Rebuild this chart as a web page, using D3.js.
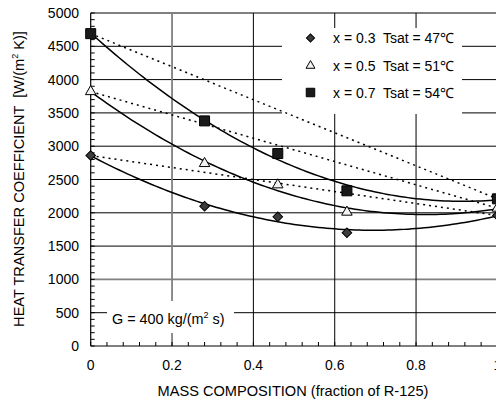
<!DOCTYPE html>
<html>
<head>
<meta charset="utf-8">
<script src="https://cdn.jsdelivr.net/npm/d3@7"></script>
<style>
  html, body { margin: 0; padding: 0; background: #fff; overflow: hidden; }
  svg { display: block; font-family: "Liberation Sans", Arial, sans-serif; }
  text { white-space: pre; }
</style>
</head>
<body>
<svg id="chart" width="496" height="403"></svg>
<script>
// ---- data ----
const composition = [0, 0.28, 0.46, 0.63, 1.0];
const htcX03 = [2860, 2100, 1940, 1700, 1960];
const htcX05 = [3820, 2740, 2420, 2010, 2070];
const htcX07 = [4690, 3380, 2890, 2330, 2210];
const seriesNames = ["x = 0.3  Tsat = 47\u2103", "x = 0.5  Tsat = 51\u2103", "x = 0.7  Tsat = 54\u2103"];
const xTicks = [0, 0.2, 0.4, 0.6, 0.8, 1];
const yTicks = [0, 500, 1000, 1500, 2000, 2500, 3000, 3500, 4000, 4500, 5000];
const xTitle = "MASS COMPOSITION (fraction of R-125)";
const yTitleMain = "HEAT TRANSFER COEFFICIENT  [W/(m";
const yTitleTail = " K)]";
const noteMain = "G = 400 kg/(m";
const noteTail = " s)";

const svg = d3.select("#chart");
const x = d3.scaleLinear().domain([0, 1]).range([90.7, 497.4]);
const y = d3.scaleLinear().domain([0, 5000]).range([346, 13]);

// gridlines
const grid = svg.append("g");
yTicks.filter(v => v > 0).forEach(v => {
  const gray = v === 1000;
  grid.append("line")
    .attr("x1", x(0)).attr("x2", x(1))
    .attr("y1", y(v)).attr("y2", y(v))
    .attr("stroke", gray ? "#808080" : "#000")
    .attr("stroke-width", gray ? 1.8 : 1);
});
xTicks.filter(v => v > 0).forEach(v => {
  const gray = v === 0.2;
  grid.append("line")
    .attr("x1", x(v)).attr("x2", x(v))
    .attr("y1", y(0)).attr("y2", y(5000))
    .attr("stroke", gray ? "#808080" : "#000")
    .attr("stroke-width", gray ? 1.8 : 1);
});

// minor ticks (inside)
const minorY = d3.range(0, 5001, 100);
svg.append("g").selectAll("line").data(minorY).join("line")
  .attr("x1", x(0)).attr("x2", x(0) + 4)
  .attr("y1", d => y(d)).attr("y2", d => y(d))
  .attr("stroke", "#000").attr("stroke-width", 1);
const minorX = d3.range(0, 26).map(i => i * 0.04);
svg.append("g").selectAll("line").data(minorX).join("line")
  .attr("x1", d => x(d)).attr("x2", d => x(d))
  .attr("y1", y(0)).attr("y2", y(0) - 4)
  .attr("stroke", "#000").attr("stroke-width", 1);

// axes lines
svg.append("line").attr("x1", x(0)).attr("x2", x(0)).attr("y1", y(0)).attr("y2", y(5000))
  .attr("stroke", "#000").attr("stroke-width", 1.2);
svg.append("line").attr("x1", x(0)).attr("x2", x(1)).attr("y1", y(0)).attr("y2", y(0))
  .attr("stroke", "#000").attr("stroke-width", 1.2);

// tick labels
svg.append("g").selectAll("text").data(yTicks).join("text")
  .attr("x", 79).attr("y", d => y(d)).attr("dy", "0.36em")
  .attr("text-anchor", "end").attr("font-size", 14).attr("fill", "#000")
  .text(d => d);
svg.append("g").selectAll("text").data(xTicks).join("text")
  .attr("x", d => x(d)).attr("y", 370)
  .attr("text-anchor", "middle").attr("font-size", 14).attr("fill", "#000")
  .text(d => d);

// axis titles
svg.append("text").attr("x", 293).attr("y", 396).attr("text-anchor", "middle")
  .attr("font-size", 14.6).text(xTitle);
const yt = svg.append("text").attr("transform", "translate(24,179) rotate(-90)")
  .attr("text-anchor", "middle").attr("font-size", 14.6);
yt.append("tspan").text(yTitleMain);
yt.append("tspan").attr("font-size", 9).attr("dy", -6).text("2");
yt.append("tspan").attr("dy", 6).text(yTitleTail);

// white boxes (legend and note)
svg.append("rect").attr("x", 282).attr("y", 28).attr("width", 180).attr("height", 86).attr("fill", "#fff");
svg.append("rect").attr("x", 107).attr("y", 301).attr("width", 127).attr("height", 32).attr("fill", "#fff");

// note
const nt = svg.append("text").attr("x", 112).attr("y", 324).attr("font-size", 14.4);
nt.append("tspan").text(noteMain);
nt.append("tspan").attr("font-size", 9).attr("dy", -6).text("2");
nt.append("tspan").attr("dy", 6).text(noteTail);

// quadratic least-squares fit (trendline through the measured points)
function quadFit(xs, ys) {
  let S = [0,0,0,0,0], T = [0,0,0];
  xs.forEach((xv, i) => {
    for (let k = 0; k < 5; k++) S[k] += Math.pow(xv, k);
    for (let k = 0; k < 3; k++) T[k] += ys[i] * Math.pow(xv, k);
  });
  const A = [[S[0],S[1],S[2],T[0]],[S[1],S[2],S[3],T[1]],[S[2],S[3],S[4],T[2]]];
  for (let i = 0; i < 3; i++) {
    for (let j = i + 1; j < 3; j++) {
      const f = A[j][i] / A[i][i];
      for (let k = i; k < 4; k++) A[j][k] -= f * A[i][k];
    }
  }
  const c = [0,0,0];
  for (let i = 2; i >= 0; i--) {
    let s = A[i][3];
    for (let k = i + 1; k < 3; k++) s -= A[i][k] * c[k];
    c[i] = s / A[i][i];
  }
  return c;
}

const allSeries = [htcX03, htcX05, htcX07];
const line = d3.line().x(d => x(d[0])).y(d => y(d[1]));
const samples = d3.range(0, 101).map(i => i / 100);

allSeries.forEach(vals => {
  // dotted straight line between pure-component values
  svg.append("path")
    .attr("d", line([[composition[0], vals[0]], [composition[4], vals[4]]]))
    .attr("fill", "none").attr("stroke", "#000").attr("stroke-width", 1.5)
    .attr("stroke-dasharray", "2,4");
  const c = quadFit(composition, vals);
  svg.append("path")
    .attr("d", line(samples.map(t => [t, c[0] + c[1] * t + c[2] * t * t])))
    .attr("fill", "none").attr("stroke", "#000").attr("stroke-width", 1.5);
});

// markers
function drawMarker(g, kind, cx, cy, scale) {
  if (kind === 0) {
    g.append("path").attr("d", d3.symbol(d3.symbolSquare).size(46 * scale)())
      .attr("transform", `translate(${cx},${cy}) rotate(45)`)
      .attr("fill", "#3c3c3c").attr("stroke", "#000").attr("stroke-width", 1);
  } else if (kind === 1) {
    g.append("path").attr("d", d3.symbol(d3.symbolTriangle).size(48 * scale)())
      .attr("transform", `translate(${cx},${cy})`)
      .attr("fill", "#f2f2f2").attr("stroke", "#000").attr("stroke-width", 1);
  } else {
    g.append("path").attr("d", d3.symbol(d3.symbolSquare).size(100 * scale)())
      .attr("transform", `translate(${cx},${cy})`)
      .attr("fill", "#1a1a1a").attr("stroke", "#000").attr("stroke-width", 1);
  }
}
const mk = svg.append("g");
allSeries.forEach((vals, si) => {
  vals.forEach((v, i) => drawMarker(mk, si, x(composition[i]), y(v), 1));
});

// legend
const legY = [38, 65.7, 92.5];
seriesNames.forEach((name, i) => {
  drawMarker(svg, i, 310.5, legY[i], 0.72);
  svg.append("text").attr("x", 333).attr("y", legY[i]).attr("dy", "0.36em")
    .attr("font-size", 14).text(name);
});
</script>
</body>
</html>
